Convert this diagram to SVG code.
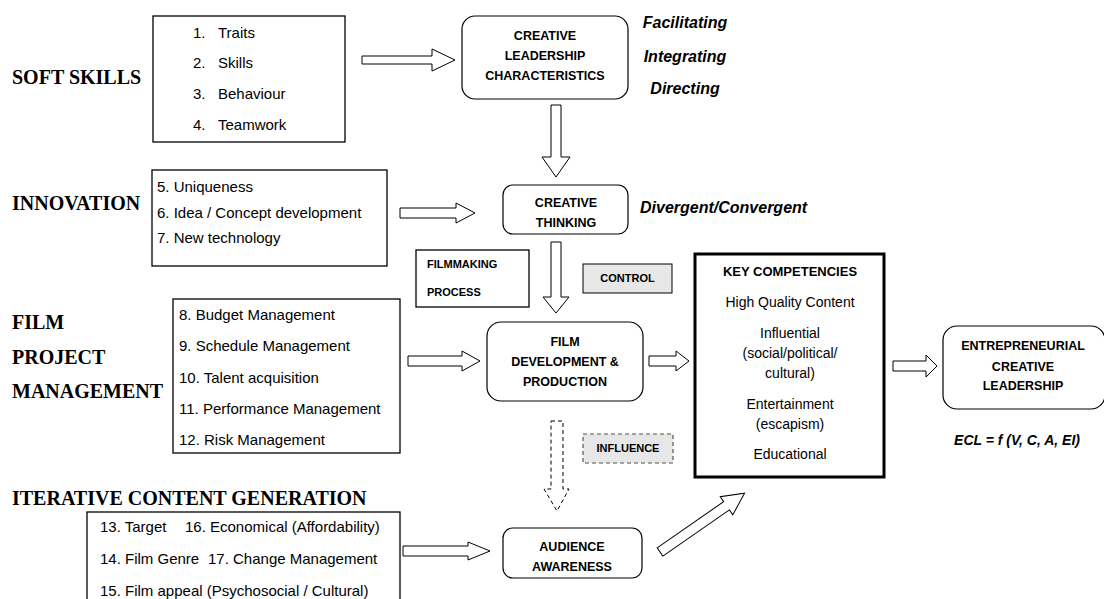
<svg xmlns="http://www.w3.org/2000/svg" width="1104" height="599" viewBox="0 0 1104 599">
<style>
.bg{fill:#fff}
.box{fill:#fff;stroke:#000;stroke-width:1.3}
.rbox{fill:#fff;stroke:#000;stroke-width:1.2}
.thick{fill:#fff;stroke:#000;stroke-width:3}
.grey{fill:#e7e7e7;stroke:#000;stroke-width:1}
.greyd{fill:#e7e7e7;stroke:#555;stroke-width:1.2;stroke-dasharray:4 3}
.arr{fill:#fff;stroke:#000;stroke-width:1}
.arrd{fill:#fff;stroke:#000;stroke-width:1;stroke-dasharray:4 3}
.sec{font-family:"Liberation Serif","Times New Roman",serif;font-weight:bold;font-size:20px;fill:#000}
.it{font-family:"Liberation Sans",Arial,sans-serif;font-size:15px;fill:#000}
.kc{font-family:"Liberation Sans",Arial,sans-serif;font-size:14px;fill:#000;text-anchor:middle}
.hd{font-family:"Liberation Sans",Arial,sans-serif;font-weight:bold;font-size:12.5px;fill:#000;text-anchor:middle}
.sm{font-family:"Liberation Sans",Arial,sans-serif;font-weight:bold;font-size:11px;fill:#000}
.bi{font-family:"Liberation Sans",Arial,sans-serif;font-weight:bold;font-style:italic;font-size:16px;fill:#000}
</style>
<rect class="bg" x="0" y="0" width="1104" height="599"/>

<g id="labels">
<text class="sec" x="12" y="84">SOFT SKILLS</text>
<text class="sec" x="12" y="210">INNOVATION</text>
<text class="sec" x="12" y="329">FILM</text>
<text class="sec" x="12" y="364">PROJECT</text>
<text class="sec" x="12" y="398">MANAGEMENT</text>
<text class="sec" x="12" y="505">ITERATIVE CONTENT GENERATION</text>
</g>

<g id="soft-skills">
<rect class="box" x="153" y="16" width="192" height="126"/>
<text class="it" x="193" y="38">1.<tspan x="218">Traits</tspan></text>
<text class="it" x="193" y="68">2.<tspan x="218">Skills</tspan></text>
<text class="it" x="193" y="99">3.<tspan x="218">Behaviour</tspan></text>
<text class="it" x="193" y="130">4.<tspan x="218">Teamwork</tspan></text>
</g>

<g id="innovation">
<rect class="box" x="152" y="170" width="235" height="96"/>
<text class="it" x="157" y="192">5. Uniqueness</text>
<text class="it" x="157" y="218">6. Idea / Concept development</text>
<text class="it" x="157" y="243">7. New technology</text>
</g>

<g id="film-project-management">
<rect class="box" x="173" y="299" width="227" height="154"/>
<text class="it" x="179" y="320">8. Budget Management</text>
<text class="it" x="179" y="351">9. Schedule Management</text>
<text class="it" x="179" y="383">10. Talent acquisition</text>
<text class="it" x="179" y="414">11. Performance Management</text>
<text class="it" x="179" y="445">12. Risk Management</text>
</g>

<g id="iterative-content">
<rect class="box" x="87" y="512" width="313" height="100"/>
<text class="it" x="100" y="532">13. Target<tspan x="185">16. Economical (Affordability)</tspan></text>
<text class="it" x="100" y="564">14. Film Genre<tspan x="208">17. Change Management</tspan></text>
<text class="it" x="100" y="596">15. Film appeal (Psychosocial / Cultural)</text>
</g>

<g id="creative-leadership">
<rect class="rbox" x="462" y="16" width="166" height="83" rx="13"/>
<text class="hd" x="545" y="40">CREATIVE</text>
<text class="hd" x="545" y="60">LEADERSHIP</text>
<text class="hd" x="545" y="80">CHARACTERISTICS</text>
</g>

<g id="leadership-styles">
<text class="bi" x="685" y="28" text-anchor="middle">Facilitating</text>
<text class="bi" x="685" y="62" text-anchor="middle">Integrating</text>
<text class="bi" x="685" y="94" text-anchor="middle">Directing</text>
</g>

<g id="creative-thinking">
<rect class="rbox" x="503" y="185" width="125" height="49" rx="10"/>
<text class="hd" x="566" y="207">CREATIVE</text>
<text class="hd" x="566" y="227">THINKING</text>
</g>
<text class="bi" x="640" y="213">Divergent/Convergent</text>

<g id="filmmaking-process">
<rect class="box" x="416" y="250" width="113" height="57"/>
<text class="sm" x="427" y="268">FILMMAKING</text>
<text class="sm" x="427" y="296">PROCESS</text>
</g>

<g id="control">
<rect class="grey" x="583" y="264" width="89" height="29"/>
<text class="sm" x="627.5" y="282" text-anchor="middle">CONTROL</text>
</g>

<g id="film-development">
<rect class="rbox" x="487" y="322" width="156" height="79" rx="14"/>
<text class="hd" x="565" y="346">FILM</text>
<text class="hd" x="565" y="366">DEVELOPMENT &amp;</text>
<text class="hd" x="565" y="386">PRODUCTION</text>
</g>

<g id="influence">
<rect class="greyd" x="583" y="434" width="90" height="29"/>
<text class="sm" x="628" y="452" text-anchor="middle">INFLUENCE</text>
</g>

<g id="audience-awareness">
<rect class="rbox" x="503" y="528" width="139" height="50" rx="10"/>
<text class="hd" x="572" y="551">AUDIENCE</text>
<text class="hd" x="572" y="571">AWARENESS</text>
</g>

<g id="key-competencies">
<rect class="thick" x="695" y="254" width="189" height="223"/>
<text class="hd" x="790" y="276" style="font-size:13px">KEY COMPETENCIES</text>
<text class="kc" x="790" y="307">High Quality Content</text>
<text class="kc" x="790" y="338">Influential</text>
<text class="kc" x="790" y="358">(social/political/</text>
<text class="kc" x="790" y="378">cultural)</text>
<text class="kc" x="790" y="409">Entertainment</text>
<text class="kc" x="790" y="429">(escapism)</text>
<text class="kc" x="790" y="459">Educational</text>
</g>

<g id="entrepreneurial-creative-leadership">
<rect class="rbox" x="943" y="326" width="162" height="83" rx="14"/>
<text class="hd" x="1023" y="350">ENTREPRENEURIAL</text>
<text class="hd" x="1023" y="371">CREATIVE</text>
<text class="hd" x="1023" y="390">LEADERSHIP</text>
</g>
<text class="bi" x="1017" y="445" text-anchor="middle" style="font-size:14px">ECL = f (V, C, A, EI)</text>

<g id="connectors">
<polygon class="arr" points="362,56 432,56 432,49 455,60 432,71 432,64 362,64"/>
<polygon class="arr" points="551,105 561,105 561,157 570,157 556,177 542,157 551,157"/>
<polygon class="arr" points="400,208 456,208 456,203 475,213 456,223 456,218 400,218"/>
<polygon class="arr" points="551,242 561,242 561,297 569,297 556,313 543,297 551,297"/>
<polygon class="arr" points="408,356 462,356 462,351 480,361 462,371 462,366 408,366"/>
<polygon class="arr" points="649,356 676,356 676,351 689,361 676,371 676,366 649,366"/>
<polygon class="arr" points="893,361 926,361 926,355 937,366 926,377 926,371 893,371"/>
<polygon class="arrd" points="551,421 563,421 563,489 569,489 557,511 544,489 551,489"/>
<polygon class="arr" points="403,546 468,546 468,542 490,551 468,560 468,556 403,556"/>
<polygon class="arr" transform="translate(660,552) rotate(-34.8)" points="0,-5 81,-5 81,-11 103,0 81,11 81,5 0,5"/>
</g>
</svg>
